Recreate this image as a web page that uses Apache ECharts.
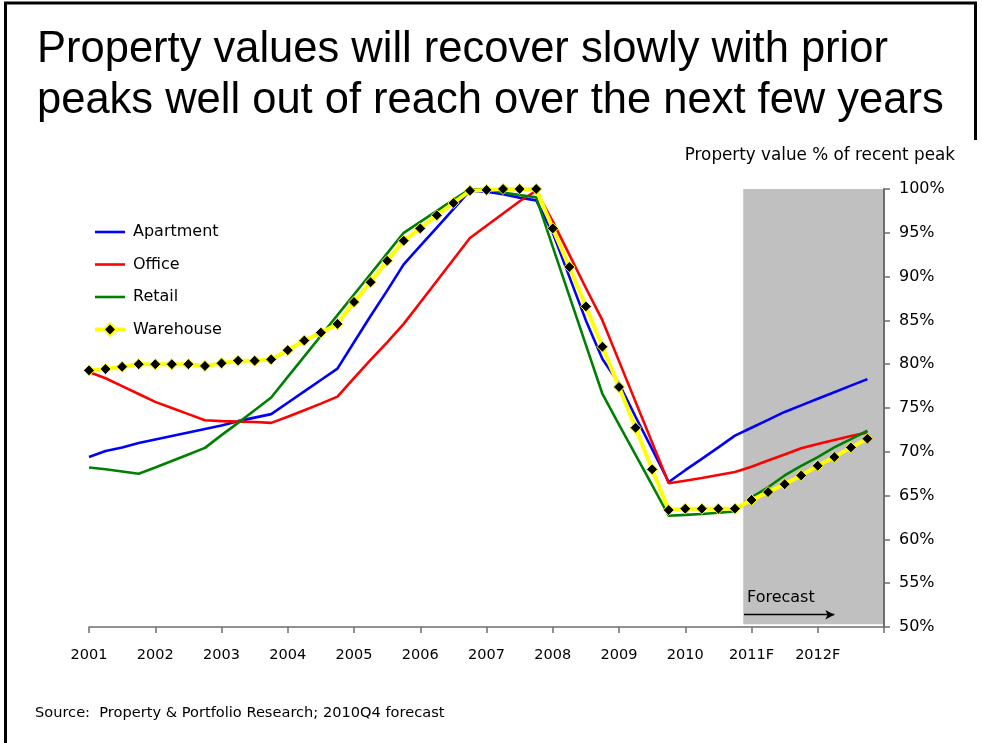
<!DOCTYPE html>
<html>
<head>
<meta charset="utf-8">
<script src="https://cdn.jsdelivr.net/npm/echarts@6/dist/echarts.min.js"></script>
<style>
html,body{margin:0;padding:0;background:#fff;}
#chart{width:982px;height:743px;}
</style>
</head>
<body>
<div id="chart"></div>
<script>
// Year tick labels (one per 4 quarters)
const years = ['2001','2002','2003','2004','2005','2006','2007','2008','2009','2010','2011F','2012F'];
// Quarterly values, 2001Q1 .. 2012Q4 (% of recent peak)
const apartment = [69.4,70.1,70.5,71.0,71.4,71.8,72.2,72.6,73.0,73.5,73.9,74.3,
  75.6,76.9,78.2,79.5,82.5,85.5,88.4,91.4,93.5,95.6,97.7,99.8,
  99.7,99.4,99.0,98.7,95.0,90.0,85.0,80.6,77.8,74.0,70.3,66.55,
  67.9,69.2,70.5,71.85,72.75,73.65,74.55,75.3,76.05,76.8,77.55,78.3];
const office = [79.1,78.4,77.5,76.6,75.7,75.0,74.3,73.6,73.5,73.45,73.4,73.3,
  74.0,74.75,75.5,76.3,78.4,80.5,82.5,84.6,87.05,89.5,91.95,94.4,
  95.8,97.2,98.6,99.8,96.3,92.5,88.7,85.0,80.35,75.7,71.05,66.4,
  66.7,67.0,67.35,67.7,68.3,69.0,69.7,70.4,70.9,71.35,71.8,72.2];
const retail = [68.2,68.0,67.75,67.5,68.2,68.95,69.7,70.45,71.9,73.3,74.75,76.2,
  78.55,80.9,83.25,85.6,87.95,90.3,92.65,95.0,96.25,97.5,98.75,100,
  100,99.6,99.3,99.05,93.4,87.8,82.2,76.6,73.1,69.65,66.2,62.7,
  62.8,62.9,63.05,63.2,64.8,65.95,67.3,68.4,69.4,70.5,71.45,72.4];
const warehouse = [79.3,79.45,79.7,80.0,80.0,80.0,80.0,79.8,80.1,80.4,80.4,80.55,
  81.6,82.7,83.6,84.6,87.1,89.35,91.8,94.1,95.5,97.0,98.4,99.8,
  99.9,100,100,100,95.5,91.1,86.6,82.0,77.4,72.75,68.0,63.35,
  63.5,63.5,63.5,63.5,64.5,65.4,66.3,67.3,68.4,69.4,70.5,71.5];
// Forecast period (in quarter index units) and arrow
const forecastStart = 39.5, forecastEnd = 48;
const arrowEnd = 45;
const yMin = 50, yMax = 100;

const pairs = arr => arr.map((v,i)=>[i,v]);
const FONT = 'DejaVu Sans';
const LW = 2.6;
const AXIS_COLOR = '#6e6e6e';

const chart = echarts.init(document.getElementById('chart'), null, {renderer:'canvas'});
const lineSeries = (name, data, color) => ({
  name, type:'line', data:pairs(data), showSymbol:false, symbol:'none', z:3,
  lineStyle:{color, width:LW}, itemStyle:{color}
});

chart.setOption({
  animation:false,
  backgroundColor:'#fff',
  grid:{left:89, right:98, top:189, bottom:116},
  legend:{
    data:[
      {name:'Apartment', itemStyle:{opacity:0}, lineStyle:{width:LW}},
      {name:'Office', itemStyle:{opacity:0}, lineStyle:{width:LW}},
      {name:'Retail', itemStyle:{opacity:0}, lineStyle:{width:LW}},
      {name:'Warehouse', lineStyle:{width:4}}
    ],
    orient:'vertical', left:93, top:222, padding:0, itemWidth:30, itemHeight:16, itemGap:12.5,
    textStyle:{fontFamily:FONT, fontSize:16, color:'#000', lineHeight:20, padding:[0,0,0,3]}
  },
  xAxis:{
    type:'value', min:0, max:48, interval:4, z:10,
    axisLine:{show:true, onZero:false, lineStyle:{color:AXIS_COLOR, width:1.5}},
    axisTick:{show:true, length:6, lineStyle:{color:AXIS_COLOR, width:1.5}},
    axisLabel:{formatter:v=>years[v/4]||'', color:'#000', fontFamily:FONT, fontSize:14.5, margin:21},
    splitLine:{show:false}
  },
  yAxis:{
    type:'value', position:'right', min:yMin, max:yMax, interval:5, z:10,
    axisLine:{show:true, onZero:false, lineStyle:{color:AXIS_COLOR, width:2}},
    axisTick:{show:true, length:6, lineStyle:{color:AXIS_COLOR, width:1.5}},
    axisLabel:{formatter:'{value}%', color:'#000', fontFamily:FONT, fontSize:16, margin:15},
    splitLine:{show:false}
  },
  series:[
    {
      name:'forecast', type:'line', data:[], z:-1, silent:true,
      markArea:{silent:true, z:-1, itemStyle:{color:'#c0c0c0'},
        data:[[{coord:[forecastStart,50.3]},{coord:[forecastEnd-0.06,yMax]}]]},
      markLine:{silent:true, symbol:['none','arrow'], symbolSize:[7,9],
        lineStyle:{color:'#000', width:1.3, type:'solid'}, label:{show:false},
        data:[[{coord:[forecastStart+0.05,51.4]},{coord:[arrowEnd,51.4]}]]}
    },
    lineSeries('Apartment', apartment, '#0000ff'),
    lineSeries('Office', office, '#ff0000'),
    lineSeries('Retail', retail, '#008000'),
    {
      name:'Warehouse', type:'line', data:pairs(warehouse), z:4,
      symbol:'diamond', symbolSize:11, showSymbol:true,
      lineStyle:{color:'#ffff00', width:4},
      itemStyle:{color:'#000', borderColor:'#ffff00', borderWidth:1},
      // right value-axis edge, drawn above the forecast band
      markLine:{silent:true, symbol:['none','none'], label:{show:false},
        lineStyle:{color:AXIS_COLOR, width:2, type:'solid'},
        data:[[{coord:[forecastEnd-0.03,yMin]},{coord:[forecastEnd-0.03,yMax]}]]}
    }
  ],
  graphic:{elements:[
    {type:'text', z:100, x:37, y:50,
      style:{text:'Property values will recover slowly with prior', font:'43.5px "Liberation Sans", Arial, sans-serif', fill:'#000', verticalAlign:'middle'}},
    {type:'text', z:100, x:37, y:101,
      style:{text:'peaks well out of reach over the next few years', font:'43.5px "Liberation Sans", Arial, sans-serif', fill:'#000', verticalAlign:'middle'}},
    {type:'text', z:100, x:955, y:156,
      style:{text:'Property value % of recent peak', font:'16.8px "DejaVu Sans"', fill:'#000', align:'right', verticalAlign:'middle'}},
    {type:'text', z:100, x:747, y:598,
      style:{text:'Forecast', font:'16px "DejaVu Sans"', fill:'#000', verticalAlign:'middle'}},
    {type:'text', z:100, x:35, y:713,
      style:{text:'Source:  Property & Portfolio Research; 2010Q4 forecast', font:'14.6px "DejaVu Sans"', fill:'#000', verticalAlign:'middle'}},
    {type:'line', z:100, shape:{x1:4,y1:3,x2:977,y2:3}, style:{stroke:'#000', lineWidth:3}},
    {type:'line', z:100, shape:{x1:5.5,y1:2,x2:5.5,y2:743}, style:{stroke:'#000', lineWidth:3}},
    {type:'line', z:100, shape:{x1:975.5,y1:2,x2:975.5,y2:140}, style:{stroke:'#000', lineWidth:3}}
  ]}
});
</script>
</body>
</html>
